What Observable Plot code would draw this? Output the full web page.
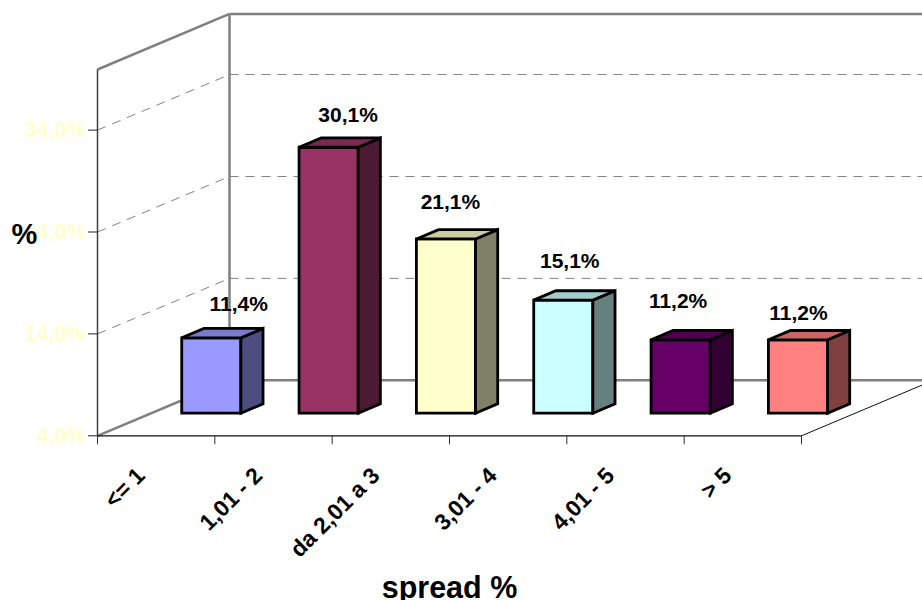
<!DOCTYPE html>
<html><head><meta charset="utf-8">
<script src="https://cdn.jsdelivr.net/npm/d3@7"></script>
<script src="https://cdn.jsdelivr.net/npm/@observablehq/plot@0.6"></script>
<style>html,body{margin:0;padding:0;background:#fff}svg{display:block}</style>
</head><body><div id="chart"></div>
<script>
const categories = ["<= 1", "1,01 - 2", "da 2,01 a 3", "3,01 - 4", "4,01 - 5", "> 5"];
const values = [11.4, 30.1, 21.1, 15.1, 11.2, 11.2];
const barColors = ["#9999FF", "#993366", "#FFFFCC", "#CCFFFF", "#660066", "#FF8080"];
const yTicks = [4, 14, 24, 34];
const gridValues = [14, 24, 34];
const labelNudges = [[57, -34], [49, -32], [34, -37], [36, -39], [27, -39], [30, -27]];

const wallTop = 39.95, yBase = 4;
// oblique projection of a depth step t (0 front of floor, 1 back wall) in scale units
const depthX = 1.125, depthY = 5.45;
const px = (c, t) => c + t * depthX;
const py = (v, t) => v + t * depthY;
const barStart = 0.26, barWidth = 0.504, t0 = 0.407, t1 = 0.575;
const shade = (c, k) => { const r = d3.rgb(c); return d3.rgb(r.r * k, r.g * k, r.b * k).formatHex(); };
const pct = v => v.toFixed(1).replace(".", ",") + "%";

const faces = [];
values.forEach((v, i) => {
  const a = i + barStart, b = a + barWidth, col = barColors[i];
  const add = (id, fill, pts) => pts.forEach(([x, y]) => faces.push({id: i + id, fill, x, y}));
  add("front", col, [[px(a,t0),py(yBase,t0)],[px(b,t0),py(yBase,t0)],[px(b,t0),py(v,t0)],[px(a,t0),py(v,t0)]]);
  add("side", shade(col,0.5), [[px(b,t0),py(yBase,t0)],[px(b,t1),py(yBase,t1)],[px(b,t1),py(v,t1)],[px(b,t0),py(v,t0)]]);
  add("top", shade(col,0.8), [[px(a,t0),py(v,t0)],[px(b,t0),py(v,t0)],[px(b,t1),py(v,t1)],[px(a,t1),py(v,t1)]]);
});

const seg = (x1, y1, x2, y2) => ({x1, y1, x2, y2});
const gridBack = gridValues.map(v => seg(px(0,1), py(v,1), px(7,1), py(v,1)));
const gridSide = gridValues.map(v => seg(0, v, px(0,1), py(v,1)));
const wallLines = [
  seg(0, wallTop, px(0,1), py(wallTop,1)),
  seg(px(0,1), py(wallTop,1), px(7,1), py(wallTop,1)),
  seg(px(0,1), py(yBase,1), px(0,1), py(wallTop,1)),
  seg(0, yBase, px(0,1), py(yBase,1)),
  seg(px(0,1), py(yBase,1), px(7,1), py(yBase,1))
];
const font = {fontWeight: "bold", fontFamily: "Liberation Sans, Arial, sans-serif"};

const chart = Plot.plot({
  width: 922, height: 600,
  marginLeft: 97, marginRight: 121, marginBottom: 164.7, marginTop: 0,
  style: {background: "#fff", ...font},
  x: {domain: [0, 6], axis: null},
  y: {domain: [yBase, 46.72], axis: null},
  color: {type: "identity"},
  marks: [
    Plot.link(gridSide, {x1: "x1", y1: "y1", x2: "x2", y2: "y2", stroke: "#808080", strokeWidth: 1, strokeDasharray: "9,7"}),
    Plot.link(gridBack, {x1: "x1", y1: "y1", x2: "x2", y2: "y2", stroke: "#808080", strokeWidth: 1, strokeDasharray: "9,7"}),
    Plot.link(wallLines, {x1: "x1", y1: "y1", x2: "x2", y2: "y2", stroke: "#808080", strokeWidth: 2.5}),
    // front axes
    Plot.link([seg(0, yBase, 0, wallTop)], {x1: "x1", y1: "y1", x2: "x2", y2: "y2", stroke: "#404040", strokeWidth: 1.5}),
    Plot.link([seg(0, yBase, 6, yBase)], {x1: "x1", y1: "y1", x2: "x2", y2: "y2", stroke: "#111", strokeWidth: 1.3}),
    Plot.link([seg(6, yBase, px(6,1), py(yBase,1))], {x1: "x1", y1: "y1", x2: "x2", y2: "y2", stroke: "#111", strokeWidth: 1}),
    Plot.axisY({anchor: "left", ticks: yTicks, tickSize: 9, tickPadding: 3, tickFormat: pct, stroke: "#222", fill: "#FFFFCC", fontSize: 21.5, fontWeight: "bold", label: null}),
    Plot.axisX({anchor: "bottom", ticks: d3.range(0, 7), tickSize: 9, tickFormat: () => "", stroke: "#333", label: null}),
    Plot.text(categories, {x: (d, i) => i + 0.5, y: yBase, text: d => d, rotate: -45, textAnchor: "end", dx: -15, dy: 36, fontSize: 22.8, fontWeight: "bold", fill: "#000"}),
    Plot.line(faces, {x: "x", y: "y", z: "id", fill: "fill", curve: "linear-closed", stroke: "#000", strokeWidth: 2.8, strokeLinejoin: "miter", strokeMiterlimit: 4}),
    ...values.map((v, i) => Plot.text([v], {x: px(i + barStart, t0), y: py(v, t0), text: pct, dx: labelNudges[i][0], dy: labelNudges[i][1], fontSize: 21, fontWeight: "bold", fill: "#000"})),
    Plot.text(["%"], {x: 0, y: 23.7, dx: -73, fontSize: 29, fontWeight: "bold", fill: "#000"}),
    Plot.text(["spread %"], {x: 3, y: yBase, dx: 0, dy: 152, fontSize: 30.5, fontWeight: "bold", fill: "#000"})
  ]
});
document.getElementById("chart").append(chart);
</script></body></html>
